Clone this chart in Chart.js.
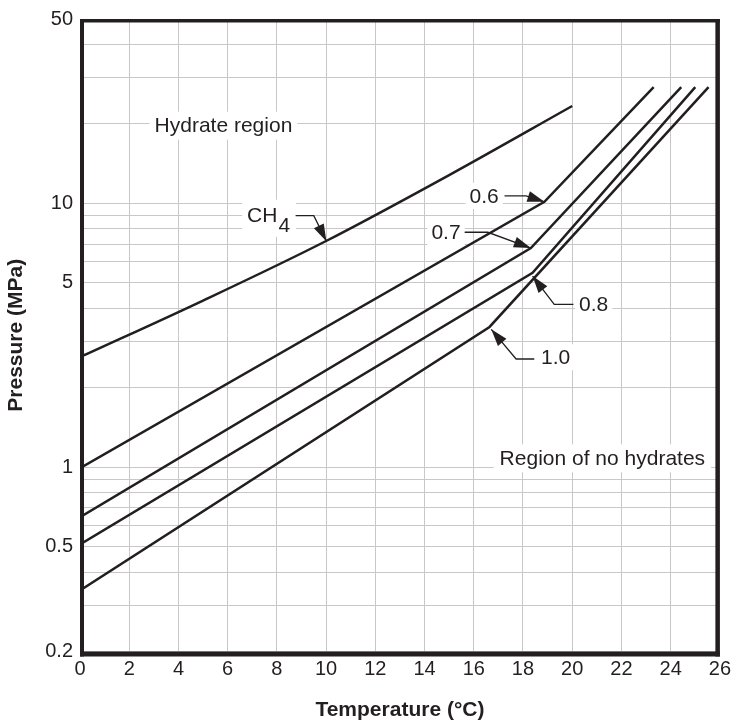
<!DOCTYPE html>
<html>
<head>
<meta charset="utf-8">
<script src="https://cdn.jsdelivr.net/npm/chart.js@4/dist/chart.umd.min.js"></script>
<style>
    body { margin: 0; background: #fff; }
    #wrap { width: 737px; height: 723px; }
</style>
</head>
<body>
<div id="wrap"><canvas id="chart-hydrate"></canvas></div>
<script>
// Hydrate formation curves, pressure (MPa) vs temperature (°C)
const ch4Temps = [0, 5, 10, 15, 20];
const ch4Press = [2.61, 4.28, 7.2, 12.8, 23.4];

const g06Temps = [0, 18.87, 23.31];
const g06Press = [0.99, 10.14, 27.6];
const g07Temps = [0, 18.32, 24.43];
const g07Press = [0.646, 6.77, 27.6];
const g08Temps = [0, 18.39, 25.0];
const g08Press = [0.509, 5.45, 27.6];
const g10Temps = [0, 16.64, 25.54];
const g10Press = [0.341, 3.40, 27.6];

const yGridValues = [0.2, 0.3, 0.4, 0.5, 0.6, 0.7, 0.8, 0.9, 1, 2, 3, 4, 5, 6, 7, 8, 9, 10, 20, 30, 40, 50];
const yTickLabels = [0.2, 0.5, 1, 5, 10, 50];

// labels with leader arrows, in data units (°C, MPa)
const textNotes = [
    { text: 'Hydrate region', x: 3.03, y: 19.7, box: [5, 14] },
    { text: 'Region of no hydrates', x: 17.05, y: 1.08, box: [6, 14] },
    { text: '0.6', x: 15.83, y: 10.68, box: [4, 13] },
    { text: '0.7', x: 14.28, y: 7.77, box: [4, 13] },
    { text: '0.8', x: 20.28, y: 4.14, box: [4, 13] },
    { text: '1.0', x: 18.73, y: 2.61, box: [4, 13] },
];
const leaders = [
    [[8.76, 8.98], [9.50, 8.98], [10.01, 7.19]],
    [[17.25, 10.68], [18.12, 10.68], [18.87, 10.14]],
    [[15.63, 7.77], [16.57, 7.77], [18.32, 6.77]],
    [[20.05, 4.14], [19.27, 4.14], [18.39, 5.30]],
    [[18.46, 2.57], [17.72, 2.57], [16.71, 3.33]],
];

const ink = '#231f20';
const fontFamily = "'Liberation Sans', Arial, Helvetica, sans-serif";
Chart.defaults.font.family = fontFamily;
Chart.defaults.color = ink;

const toPoints = (xs, ys) => xs.map((t, i) => ({ x: t, y: ys[i] }));

const lineSet = (xs, ys, smooth) => ({
    data: toPoints(xs, ys),
    borderColor: ink,
    borderWidth: 2.5,
    pointRadius: 0,
    fill: false,
    tension: 0,
    cubicInterpolationMode: smooth ? 'monotone' : 'default',
});

function arrowHead(ctx, from, to, len, half) {
    const ang = Math.atan2(to.y - from.y, to.x - from.x);
    ctx.beginPath();
    ctx.moveTo(to.x, to.y);
    ctx.lineTo(to.x - len * Math.cos(ang) + half * Math.sin(ang), to.y - len * Math.sin(ang) - half * Math.cos(ang));
    ctx.lineTo(to.x - len * Math.cos(ang) - half * Math.sin(ang), to.y - len * Math.sin(ang) + half * Math.cos(ang));
    ctx.closePath();
    ctx.fill();
}

const notesPlugin = {
    id: 'notes',
    beforeDatasetsDraw(chart) {
        const { ctx, scales: { x, y } } = chart;
        ctx.save();
        ctx.font = '21px ' + fontFamily;
        ctx.fillStyle = '#fff';
        textNotes.forEach(n => {
            const px = x.getPixelForValue(n.x);
            const py = y.getPixelForValue(n.y);
            const w = ctx.measureText(n.text).width;
            ctx.fillRect(px - n.box[0], py - n.box[1], w + 2 * n.box[0], 2 * n.box[1]);
        });
        // CH4 box
        const cx = x.getPixelForValue(6.79);
        const cy = y.getPixelForValue(8.98);
        ctx.fillRect(cx - 5, cy - 16, 54, 37);
        ctx.restore();
    },
    afterDatasetsDraw(chart) {
        const { ctx, chartArea: ca, scales: { x, y } } = chart;
        ctx.save();
        ctx.fillStyle = ink;
        ctx.strokeStyle = ink;
        ctx.font = '21px ' + fontFamily;
        ctx.textBaseline = 'middle';
        ctx.textAlign = 'left';
        textNotes.forEach(n => {
            ctx.fillText(n.text, x.getPixelForValue(n.x), y.getPixelForValue(n.y) + 1);
        });
        const cx = x.getPixelForValue(6.79);
        const cy = y.getPixelForValue(8.98);
        ctx.fillText('CH', cx, cy + 1);
        ctx.fillText('4', cx + ctx.measureText('CH').width + 1, cy + 11);

        ctx.lineWidth = 1.3;
        leaders.forEach(pts => {
            const p = pts.map(d => ({ x: x.getPixelForValue(d[0]), y: y.getPixelForValue(d[1]) }));
            ctx.beginPath();
            ctx.moveTo(p[0].x, p[0].y);
            for (let i = 1; i < p.length; i++) {
                ctx.lineTo(p[i].x, p[i].y);
            }
            ctx.stroke();
            arrowHead(ctx, p[p.length - 2], p[p.length - 1], 17, 5.5);
        });

        // heavy frame round the plot
        ctx.fillRect(ca.left, ca.top, 4, ca.bottom - ca.top + 5);
        ctx.fillRect(ca.left, ca.top, ca.right - ca.left, 3.5);
        ctx.fillRect(ca.right - 4.5, ca.top, 4.5, ca.bottom - ca.top + 5);
        ctx.fillRect(ca.left, ca.bottom, ca.right - ca.left, 5);
        ctx.restore();
    },
};

new Chart(document.getElementById('chart-hydrate'), {
    type: 'line',
    data: {
        datasets: [
            lineSet(ch4Temps, ch4Press, true),
            lineSet(g06Temps, g06Press),
            lineSet(g07Temps, g07Press),
            lineSet(g08Temps, g08Press),
            lineSet(g10Temps, g10Press),
        ],
    },
    options: {
        responsive: true,
        maintainAspectRatio: false,
        animation: false,
        layout: {
            padding: { top: 14, right: 14, left: 0, bottom: 0 },
        },
        plugins: {
            legend: { display: false },
            tooltip: { enabled: false },
        },
        scales: {
            x: {
                type: 'linear',
                min: 0,
                max: 26,
                grid: { color: '#c8c8c8', lineWidth: 1, drawTicks: false },
                border: { display: false },
                ticks: { stepSize: 2, padding: 6, font: { size: 20 }, color: ink },
                title: {
                    display: true,
                    text: 'Temperature (°C)',
                    font: { size: 21, weight: 'bold' },
                    color: ink,
                    padding: { top: 0, bottom: 0 },
                },
                afterFit: s => { s.height = 71.5; },
            },
            y: {
                type: 'logarithmic',
                min: 0.2,
                max: 50,
                grid: { color: '#c8c8c8', lineWidth: 1, drawTicks: false },
                border: { display: false },
                afterBuildTicks: s => { s.ticks = yGridValues.map(v => ({ value: v })); },
                ticks: {
                    autoSkip: false,
                    padding: 7,
                    font: { size: 20 },
                    color: ink,
                    callback: v => (yTickLabels.includes(v) ? String(v) : ''),
                },
                title: {
                    display: true,
                    text: 'Pressure (MPa)',
                    font: { size: 21, weight: 'bold' },
                    color: ink,
                    padding: { top: 4, bottom: 0 },
                },
                afterFit: s => { s.width = 80; },
            },
        },
    },
    plugins: [notesPlugin],
});
</script>
</body>
</html>
